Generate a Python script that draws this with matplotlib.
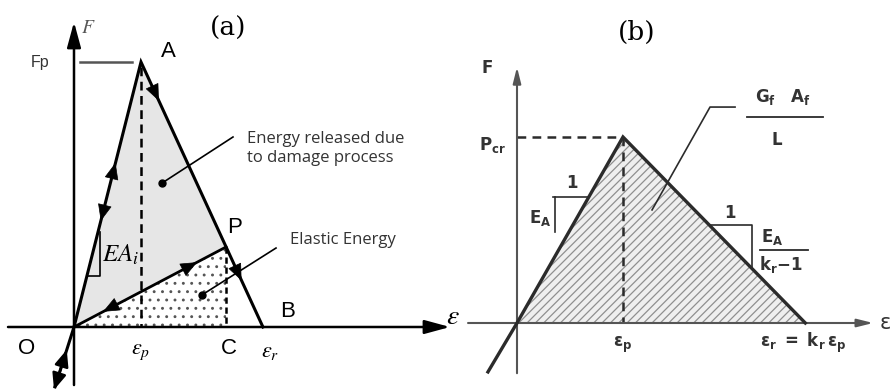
import numpy as np
import matplotlib.pyplot as plt
from matplotlib.patches import Polygon

plt.rcParams['hatch.linewidth'] = 0.9

# (a) damage model: load O -> A (peak), soften A -> B, unload at P back to O
a_names = ['O', 'A', 'P', 'B']
a_strain = [0.0, 1.0, 2.27, 2.82]
a_force = [0.0, 1.0, 0.302, 0.0]
a_comp = [-0.284, -0.226]        # compression branch below O

# (b) triangular softening law, eps_r = k_r * eps_p
k_r = 2.72
b_strain = [0.0, 1.0, k_r]
b_force = [0.0, 1.0, 0.0]
b_comp = [-0.274, -0.263]

fig = plt.figure(figsize=(8.92, 3.92), dpi=100)


def make_axes(left, width, origin, scale):
    # axes spanning [left, left+width] pixels, data origin at pixel `origin`
    ax = fig.add_axes([left / 892, 0, width / 892, 1])
    ax.set_xlim((0 - origin[0]) / scale[0], (width - origin[0]) / scale[0])
    ax.set_ylim((origin[1] - 392) / scale[1], origin[1] / scale[1])
    ax.axis('off')
    return ax


def axis_arrow(ax, start, end, color='k', lw=1.8, ms=10, hl=1.4, hw=0.38):
    ax.annotate('', xy=end, xytext=start, annotation_clip=False,
                arrowprops=dict(arrowstyle=f'-|>,head_length={hl},head_width={hw}',
                                color=color, lw=lw, shrinkA=0, shrinkB=0,
                                mutation_scale=ms))


def mid_arrow(ax, p0, p1, t):
    # small filled arrowhead on segment p0->p1, tip at fraction t
    p0, p1 = np.array(p0), np.array(p1)
    tip = p0 + t * (p1 - p0)
    tail = tip - 0.1 * (p1 - p0)
    ax.annotate('', xy=tip, xytext=tail,
                arrowprops=dict(arrowstyle='-|>,head_length=1.0,head_width=0.42',
                                color='k', lw=0.5, shrinkA=0, shrinkB=0,
                                mutation_scale=11))


# ---------------- panel (a) ----------------
ax = make_axes(0, 470, (74, 327), (67, 265))
O, A, P, B = [np.array(p) for p in zip(a_strain, a_force)]
C = np.array([P[0], 0.0])

ax.add_patch(Polygon([O, A, P], closed=True, fc='#e6e6e6', ec='none', zorder=1))
ax.add_patch(Polygon([O, P, C], closed=True, fc='white', ec='#555555', lw=0,
                     hatch='..', zorder=1))

# axes
axis_arrow(ax, (0, -0.219), (0, 1.151), ms=11)
axis_arrow(ax, (-0.985, 0), (5.612, 0), ms=11)

# load path and unloading line
ax.plot([a_comp[0], O[0], A[0], B[0]], [a_comp[1], O[1], A[1], B[1]],
        color='k', lw=2.2, solid_joinstyle='miter', zorder=3)
ax.plot([O[0], P[0]], [O[1], P[1]], color='k', lw=2.0, zorder=3)
ax.plot([A[0], A[0]], [A[1] - 0.02, 0], color='k', lw=1.8, dashes=(3.5, 2.2), zorder=2)
ax.plot([P[0], P[0]], [P[1], 0], color='k', lw=1.8, dashes=(2.5, 1.5), zorder=2)
ax.plot([0.09, 0.866], [A[1], A[1]], color='#555555', lw=1.8)

# direction arrows
mid_arrow(ax, O, A, 0.62)
mid_arrow(ax, A, O, 0.60)
mid_arrow(ax, A, P, 0.21)
mid_arrow(ax, P, B, 0.42)
mid_arrow(ax, O, P, 0.81)
mid_arrow(ax, P, O, 0.81)
comp = np.array(a_comp)
ax.annotate('', xy=O + 1.05 * comp, xytext=O + 0.38 * comp,
            arrowprops=dict(arrowstyle='<|-|>,head_length=1.0,head_width=0.42',
                            color='k', lw=1.8, shrinkA=0, shrinkB=0, mutation_scale=10),
            annotation_clip=False)

# slope marker
ax.plot([0.194, 0.388, 0.388], [0.192, 0.192, 0.358], color='k', lw=1.2)
ax.text(0.42, 0.272, r'$EA_i$', fontsize=18, math_fontfamily='stix',
        ha='left', va='center')

# leaders to the energy areas
ax.plot([1.313, 2.373], [0.543, 0.717], color='k', lw=1.2)
ax.plot(1.313, 0.543, 'o', color='k', ms=5)
ax.plot([1.910, 3.015], [0.121, 0.298], color='k', lw=1.2)
ax.plot(1.910, 0.121, 'o', color='k', ms=5)
ax.text(2.582, 0.675, 'Energy released due\nto damage process', family='Open Sans',
        fontsize=12, color='#333333', ha='left', va='center', linespacing=1.25)
ax.text(3.224, 0.328, 'Elastic Energy', family='Open Sans', fontsize=12,
        color='#333333', ha='left', va='center')

lab = dict(family='Liberation Sans', fontsize=16, ha='center', va='center')
ax.text(1.403, 1.040, 'A', **lab)
ax.text(2.403, 0.377, 'P', **lab)
ax.text(3.194, 0.060, 'B', **lab)
ax.text(-0.701, -0.083, 'O', **lab)
ax.text(2.313, -0.083, 'C', **lab)
ax.text(-0.507, 1.0, 'Fp', family='Liberation Sans', fontsize=11.5, color='#333333',
        ha='center', va='center')
ax.text(1.0, -0.094, r'$ε_p$', fontsize=16, math_fontfamily='stix', ha='center', va='center')
ax.text(2.925, -0.094, r'$ε_r$', fontsize=16, math_fontfamily='stix', ha='center', va='center')
ax.text(5.657, 0.042, r'$ε$', fontsize=20, math_fontfamily='stix', ha='center', va='center')
ax.text(0.209, 1.132, r'$F$', fontsize=14, math_fontfamily='stix', color='#555555',
        ha='center', va='center')
ax.text(2.299, 1.125, '(a)', family='DejaVu Serif', fontsize=19, ha='center', va='center')

# ---------------- panel (b) ----------------
ax = make_axes(470, 422, (47, 323), (106, 186))
O2, Pk, R = [np.array(p) for p in zip(b_strain, b_force)]
ink = '#2b2b2b'

ax.add_patch(Polygon([O2, Pk, R], closed=True, fc='#efefef', ec='#8f8f8f', lw=0,
                     hatch='////', zorder=1))

axis_arrow(ax, (0, -0.27), (0, 1.376), color='#555555', lw=1.5, ms=8, hl=1.2, hw=0.3)
axis_arrow(ax, (-0.462, 0), (3.36, 0), color='#555555', lw=1.5, ms=8, hl=1.2, hw=0.3)

ax.plot([b_comp[0], O2[0], Pk[0], R[0]], [b_comp[1], O2[1], Pk[1], R[1]],
        color=ink, lw=2.4, solid_joinstyle='miter', zorder=3)
ax.plot([0, Pk[0]], [Pk[1], Pk[1]], color=ink, lw=1.8, dashes=(3.5, 2.5), zorder=2)
ax.plot([Pk[0], Pk[0]], [Pk[1], 0], color=ink, lw=1.8, dashes=(3.5, 2.5), zorder=2)

# slope markers
ax.plot([0.340, 0.677], [0.677, 0.677], color=ink, lw=1.2)
ax.plot([0.358, 0.358], [0.677, 0.489], color=ink, lw=1.2)
ax.plot([1.814, 2.217, 2.217], [0.527, 0.527, 0.292], color=ink, lw=1.2)

# leader to the fracture-energy label
ax.plot([2.057, 1.821, 1.274], [1.161, 1.161, 0.608], color=ink, lw=1.2)

bt = dict(fontsize=12, color='#333333', fontweight='bold', ha='center', va='center',
          math_fontfamily='dejavusans')
ax.text(-0.283, 1.371, 'F', **bt)
ax.text(-0.236, 0.957, r'$\mathbf{P_{cr}}$', **bt)
ax.text(0.519, 0.753, '1', **bt)
ax.text(0.217, 0.565, r'$\mathbf{E_A}$', **bt)
ax.text(2.009, 0.591, '1', **bt)
ax.text(2.406, 0.462, r'$\mathbf{E_A}$', **bt)
ax.plot([2.292, 2.745], [0.392, 0.392], color=ink, lw=1.3)
ax.text(2.490, 0.312, r'$\mathbf{k_r{-}1}$', **bt)
ax.text(2.509, 1.215, r'$\mathbf{G_f\ \ \ A_f}$', **bt)
ax.plot([2.170, 2.887], [1.108, 1.108], color=ink, lw=1.3)
ax.text(2.453, 0.984, 'L', **bt)
ax.text(1.0, -0.118, r'$\mathbf{ε_p}$', **bt)
ax.text(2.698, -0.108, r'$\mathbf{ε_r\ =\ k_r\,ε_p}$', **bt)
ax.text(3.472, 0.0, 'ε', fontsize=15, color='#333333', ha='center', va='center')
ax.text(1.132, 1.565, '(b)', family='DejaVu Serif', fontsize=19, ha='center', va='center')

fig.savefig('out.png', dpi=100)
